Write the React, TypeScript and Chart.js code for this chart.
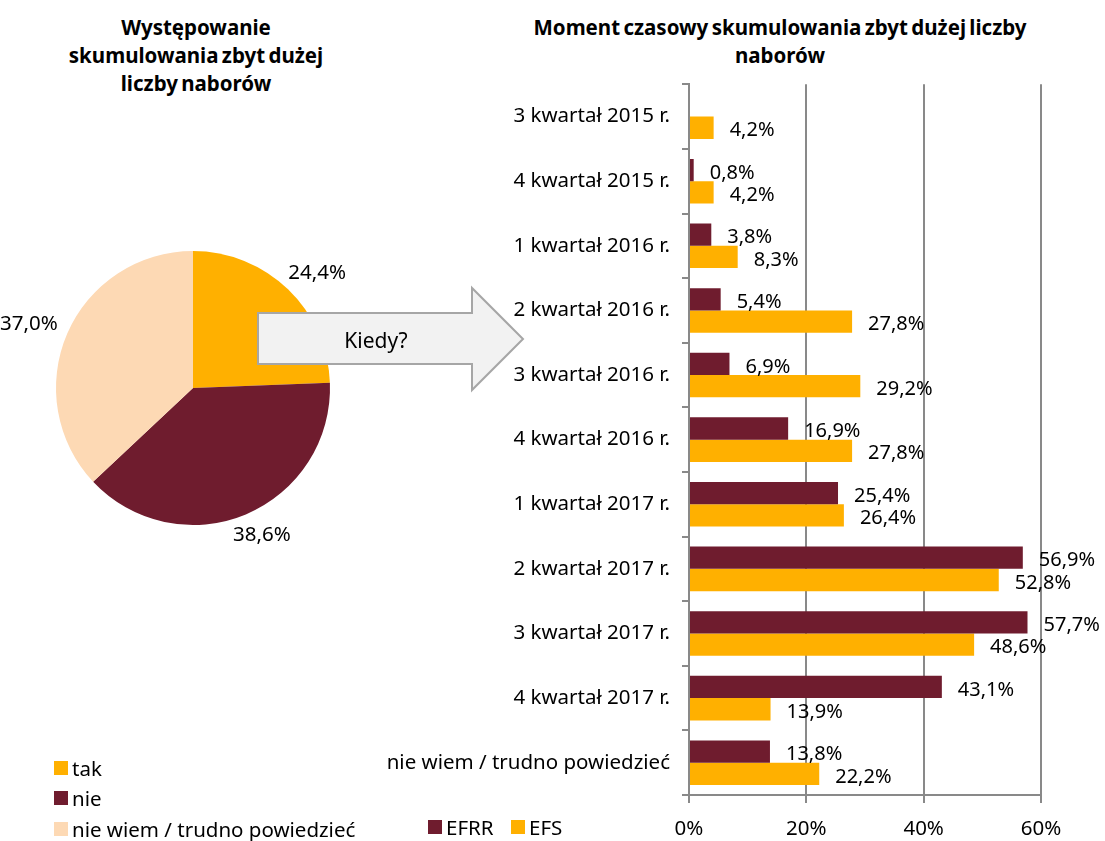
import React, { useEffect, useRef } from 'react';
import { Chart, registerables } from 'chart.js';

Chart.register(...registerables);

// ---------- data ----------
const pieLabels = ['tak', 'nie', 'nie wiem / trudno powiedzieć'];
const pieValues = [24.4, 38.6, 37.0];
const pieColors = ['#FFB000', '#6F1C2E', '#FDD9B4'];

const categories = [
  '3 kwartał 2015 r.',
  '4 kwartał 2015 r.',
  '1 kwartał 2016 r.',
  '2 kwartał 2016 r.',
  '3 kwartał 2016 r.',
  '4 kwartał 2016 r.',
  '1 kwartał 2017 r.',
  '2 kwartał 2017 r.',
  '3 kwartał 2017 r.',
  '4 kwartał 2017 r.',
  'nie wiem / trudno powiedzieć',
];
const seriesNames = ['EFRR', 'EFS'];
const efrrValues: (number | null)[] = [null, 0.8, 3.8, 5.4, 6.9, 16.9, 25.4, 56.9, 57.7, 43.1, 13.8];
const efsValues: (number | null)[] = [4.2, 4.2, 8.3, 27.8, 29.2, 27.8, 26.4, 52.8, 48.6, 13.9, 22.2];
const seriesColors = ['#6F1C2E', '#FFB000'];
const xMin = 0;
const xMax = 60;
const xStep = 20;

const FONT = '"Noto Sans", "DejaVu Sans", sans-serif';
const GRID = '#898989';

const fmt = (v: number) => v.toFixed(1).replace('.', ',') + '%';

const pieLabelPlugin = {
  id: 'pieOutsideLabels',
  afterDatasetsDraw(chart: any) {
    const ctx = chart.ctx;
    const meta = chart.getDatasetMeta(0);
    ctx.save();
    ctx.font = `20.5px ${FONT}`;
    ctx.fillStyle = '#000';
    ctx.textAlign = 'center';
    ctx.textBaseline = 'middle';
    meta.data.forEach((el: any, i: number) => {
      const p = el.getProps(['x', 'y', 'startAngle', 'endAngle', 'outerRadius'], true);
      const mid = (p.startAngle + p.endAngle) / 2;
      const dx = Math.cos(mid);
      const dy = Math.sin(mid);
      const text = fmt(pieValues[i]);
      const w = ctx.measureText(text).width;
      const h = 20;
      const d = p.outerRadius + 13;
      ctx.fillText(text, p.x + dx * d + (dx * w) / 2, p.y + dy * d + (dy * h) / 2);
    });
    ctx.restore();
  },
};

const barLabelPlugin = {
  id: 'barEndLabels',
  afterDatasetsDraw(chart: any) {
    const ctx = chart.ctx;
    ctx.save();
    ctx.font = `20px ${FONT}`;
    ctx.fillStyle = '#000';
    ctx.textAlign = 'left';
    ctx.textBaseline = 'middle';
    chart.data.datasets.forEach((ds: any, di: number) => {
      const meta = chart.getDatasetMeta(di);
      meta.data.forEach((el: any, i: number) => {
        const v = ds.data[i];
        if (v == null) return;
        ctx.fillText(fmt(v), el.x + 16, el.y + 3);
      });
    });
    ctx.restore();
  },
};

function PieChart() {
  const ref = useRef<HTMLCanvasElement>(null);
  useEffect(() => {
    if (!ref.current) return;
    const chart = new Chart(ref.current, {
      type: 'pie',
      data: {
        labels: pieLabels,
        datasets: [
          {
            data: pieValues,
            backgroundColor: pieColors,
            borderWidth: 0,
          },
        ],
      },
      options: {
        responsive: false,
        animation: false,
        layout: { padding: 50 },
        plugins: { legend: { display: false }, tooltip: { enabled: false } },
      },
      plugins: [pieLabelPlugin],
    } as any);
    return () => chart.destroy();
  }, []);
  return <canvas ref={ref} width={386} height={374} style={{ width: 386, height: 374, display: 'block' }} />;
}

const BAR_LEFT = 360;
const BAR_TOP = 60;
const PLOT_LEFT = 689;

function BarChart() {
  const ref = useRef<HTMLCanvasElement>(null);
  useEffect(() => {
    if (!ref.current) return;
    const chart = new Chart(ref.current, {
      type: 'bar',
      data: {
        labels: categories,
        datasets: [
          {
            label: seriesNames[0],
            data: efrrValues,
            backgroundColor: seriesColors[0],
            categoryPercentage: 0.69,
            barPercentage: 1,
          },
          {
            label: seriesNames[1],
            data: efsValues,
            backgroundColor: seriesColors[1],
            categoryPercentage: 0.69,
            barPercentage: 1,
          },
        ],
      },
      options: {
        indexAxis: 'y',
        responsive: false,
        animation: false,
        layout: { padding: { top: 16, right: 64, left: 0, bottom: 0 } },
        plugins: { legend: { display: false }, tooltip: { enabled: false } },
        scales: {
          x: {
            min: xMin,
            max: xMax,
            ticks: {
              stepSize: xStep,
              callback: (v: any) => v + '%',
              color: '#000',
              font: { family: FONT, size: 20.5 },
              padding: 14,
            },
            grid: { color: GRID, lineWidth: 2, tickLength: 8, drawTicks: true },
            border: { display: true, color: GRID, width: 2 },
            afterFit: (s: any) => {
              s.height = 46;
            },
          },
          y: {
            ticks: {
              color: '#000',
              font: { family: FONT, size: 20.5 },
              padding: 12,
            },
            grid: {
              color: GRID,
              lineWidth: 2,
              tickLength: 7,
              drawOnChartArea: false,
              drawTicks: true,
              offset: true,
            },
            border: { display: true, color: GRID, width: 2 },
            afterFit: (s: any) => {
              s.width = PLOT_LEFT - BAR_LEFT;
            },
          },
        },
      },
      plugins: [barLabelPlugin],
    } as any);
    return () => chart.destroy();
  }, []);
  return <canvas ref={ref} width={745} height={781} style={{ width: 745, height: 781, display: 'block' }} />;
}

function LegendItem({ x, y, color, text }: { x: number; y: number; color: string; text: string }) {
  return (
    <div
      style={{
        position: 'absolute',
        left: x,
        top: y - 15,
        height: 30,
        display: 'flex',
        alignItems: 'center',
        whiteSpace: 'nowrap',
        fontSize: 20.5,
        color: '#000',
      }}
    >
      <span style={{ width: 14, height: 14, background: color, display: 'inline-block', marginRight: 4 }} />
      <span>{text}</span>
    </div>
  );
}

export default function App() {
  return (
    <div
      style={{
        position: 'absolute',
        left: 0,
        top: 0,
        width: 1105,
        height: 841,
        background: '#fff',
        overflow: 'hidden',
        fontFamily: FONT,
      }}
    >
      {/* pie title */}
      <div
        style={{
          position: 'absolute',
          left: 0,
          top: 13,
          width: 392,
          textAlign: 'center',
          fontWeight: 700,
          fontSize: 20.5,
          lineHeight: '28px',
          wordSpacing: -2,
          color: '#000',
        }}
      >
        Występowanie
        <br />
        skumulowania zbyt dużej
        <br />
        liczby naborów
      </div>

      {/* bar title */}
      <div
        style={{
          position: 'absolute',
          left: 480,
          top: 13,
          width: 600,
          textAlign: 'center',
          fontWeight: 700,
          fontSize: 20.5,
          lineHeight: '28px',
          wordSpacing: -2,
          color: '#000',
        }}
      >
        Moment czasowy skumulowania zbyt dużej liczby
        <br />
        naborów
      </div>

      <div style={{ position: 'absolute', left: 0, top: 201 }}>
        <PieChart />
      </div>

      <div style={{ position: 'absolute', left: BAR_LEFT, top: BAR_TOP }}>
        <BarChart />
      </div>

      {/* arrow */}
      <svg style={{ position: 'absolute', left: 0, top: 0 }} width={1105} height={841}>
        <polygon
          points="258,313 472,313 472,288 523,339 472,390 472,364 258,364"
          fill="#F2F2F2"
          stroke="#A6A6A6"
          strokeWidth={2}
        />
        <text
          x={376}
          y={340}
          textAnchor="middle"
          dominantBaseline="central"
          fontFamily={FONT}
          fontSize={21}
          fill="#000"
        >
          Kiedy?
        </text>
      </svg>

      {/* pie legend */}
      <LegendItem x={54} y={768} color={pieColors[0]} text={pieLabels[0]} />
      <LegendItem x={54} y={798} color={pieColors[1]} text={pieLabels[1]} />
      <LegendItem x={54} y={829} color={pieColors[2]} text={pieLabels[2]} />

      {/* bar legend */}
      <LegendItem x={428} y={827} color={seriesColors[0]} text={seriesNames[0]} />
      <LegendItem x={511} y={827} color={seriesColors[1]} text={seriesNames[1]} />
    </div>
  );
}
